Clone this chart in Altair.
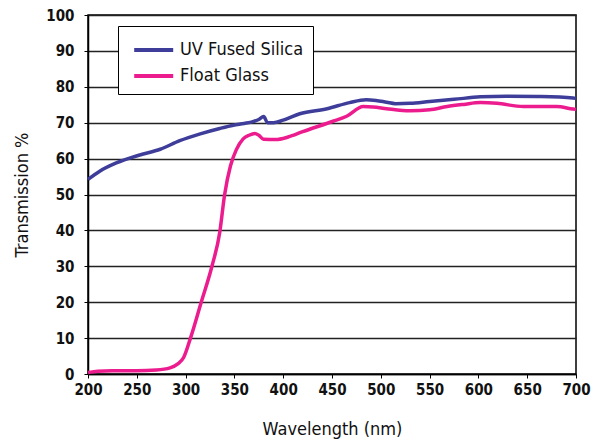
import altair as alt
import pandas as pd

# UV fused silica transmission curve
silica_nm = [200, 212, 229, 253, 274, 294, 315, 335, 349, 360, 369, 375, 380, 384, 390,
             400, 417, 445, 468, 485, 495, 506, 515, 530, 550, 575, 602, 629, 660, 697, 700]
silica_t = [54.2, 56.5, 58.8, 61.0, 62.6, 65.0, 66.9, 68.4, 69.3, 69.8, 70.3, 70.9, 71.7, 70.0, 70.0,
            70.7, 72.5, 73.9, 75.6, 76.4, 76.2, 75.7, 75.3, 75.4, 75.9, 76.5, 77.2, 77.4, 77.3, 76.9, 76.8]

# float glass transmission curve
float_nm = [200, 210, 225, 250, 270, 284, 292, 298, 305, 316, 327, 335, 340, 346, 352, 359,
            365, 371, 375, 380, 392, 405, 420, 451, 465, 482, 492, 506, 530, 550, 568,
            585, 602, 619, 646, 680, 697, 700]
float_t = [0.4, 0.8, 0.9, 0.9, 1.1, 1.7, 2.8, 4.6, 10.0, 20.0, 30.0, 39.5, 50.0, 58.0, 62.5, 65.5,
           66.5, 67.0, 66.5, 65.4, 65.3, 66.0, 67.5, 70.4, 71.8, 74.5, 74.4, 73.9, 73.3, 73.6, 74.5,
           75.1, 75.6, 75.4, 74.5, 74.5, 73.8, 73.7]

series = ["UV Fused Silica", "Float Glass"]
colors = ["#3e3e9a", "#ec1c8e"]

df = pd.concat([
    pd.DataFrame({"nm": silica_nm, "t": silica_t, "glass": series[0]}),
    pd.DataFrame({"nm": float_nm, "t": float_t, "glass": series[1]}),
])

font = "DejaVu Sans Condensed"

chart = (
    alt.Chart(df)
    .mark_line(strokeWidth=3.5, interpolate="monotone")
    .encode(
        x=alt.X("nm:Q", title="Wavelength (nm)",
                scale=alt.Scale(domain=[200, 700], nice=False),
                axis=alt.Axis(values=list(range(200, 701, 50)), grid=False, labelFlush=False,
                              tickSize=4, labelPadding=4, titlePadding=23)),
        y=alt.Y("t:Q", title="Transmission %",
                scale=alt.Scale(domain=[0, 100], nice=False),
                axis=alt.Axis(values=list(range(0, 101, 10)), tickSize=4, labelFlush=False,
                              labelPadding=10, titlePadding=14)),
        color=alt.Color("glass:N", sort=series,
                        scale=alt.Scale(domain=series, range=colors),
                        legend=alt.Legend(title=None, orient="none", legendX=30, legendY=11,
                                          symbolType="M-0.6,0H2.4", symbolSize=676,
                                          symbolStrokeWidth=4, labelFontSize=18,
                                          labelFont=font, labelColor="#111",
                                          padding=9, rowPadding=2, labelOffset=23,
                                          strokeColor="black", fillColor="white",
                                          cornerRadius=0)),
    )
    .properties(width=488, height=359, autosize="none",
                padding={"left": 80, "top": 7, "right": 15, "bottom": 66})
    .configure_view(stroke="black", strokeWidth=1.5)
    .configure_axis(labelFont=font, titleFont=font, labelFontSize=15, titleFontSize=18,
                    labelColor="#111", titleColor="#111", titleFontWeight="normal",
                    labelFontWeight="bold", domainColor="black", tickColor="black",
                    gridColor="#222", gridWidth=1.5, gridOpacity=1, domainWidth=1.5)
)

chart.save("out.html", embed_options={"renderer": "svg", "actions": False})
